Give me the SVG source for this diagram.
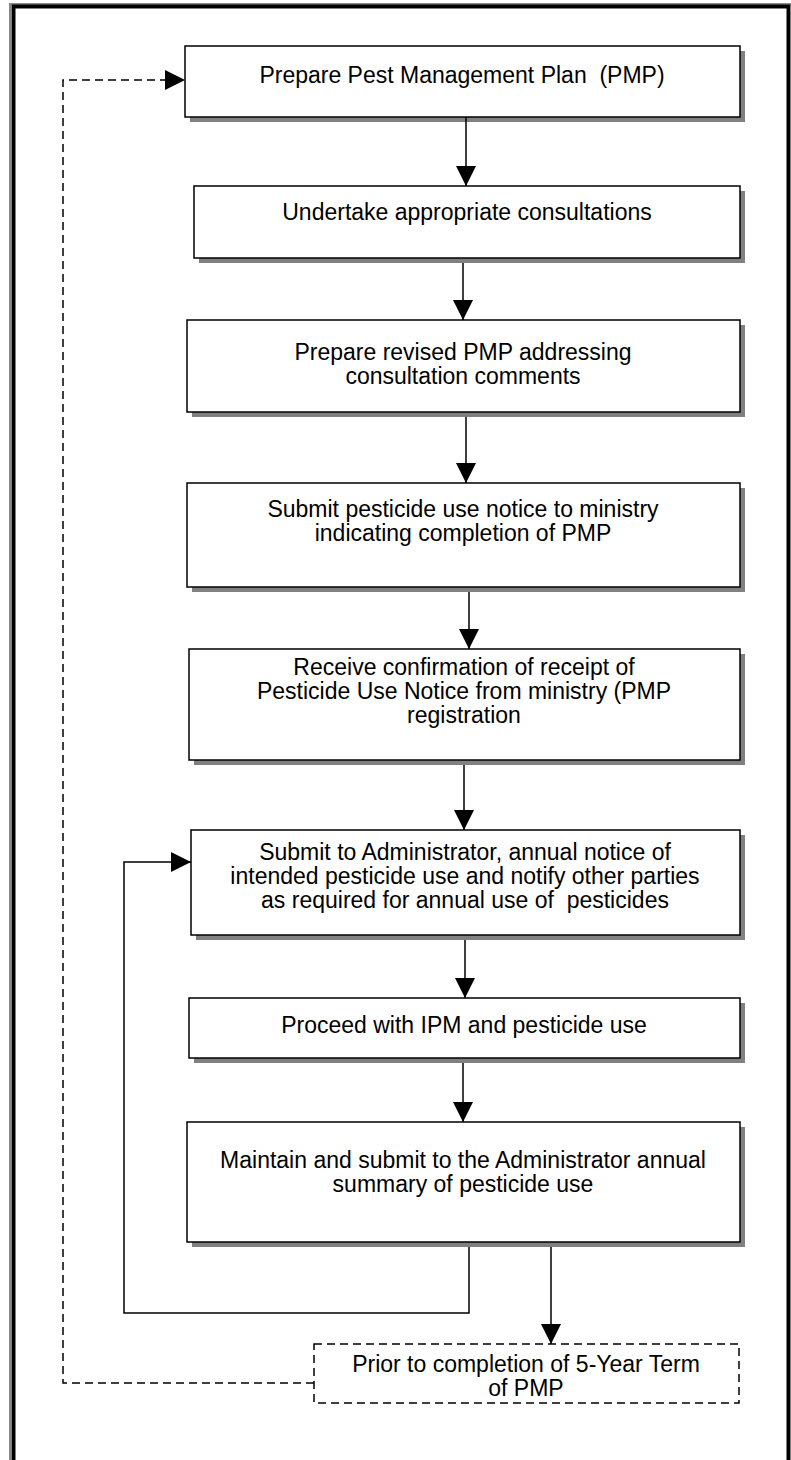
<svg xmlns="http://www.w3.org/2000/svg" width="791" height="1460" viewBox="0 0 791 1460">
<style>
.box{fill:#fff;stroke:#000;stroke-width:1.5}
.sh{fill:#808080}
.dbox{fill:none;stroke:#000;stroke-width:1.5;stroke-dasharray:8,5}
.t{font-family:"Liberation Sans",Arial,sans-serif;font-size:23px;fill:#000;text-anchor:middle;white-space:pre}
.c{fill:none;stroke:#000;stroke-width:1.5}
.d{fill:none;stroke:#000;stroke-width:1.5;stroke-dasharray:8,5}
</style>
<defs>
<marker id="ah" markerWidth="20" markerHeight="20" refX="20" refY="10" orient="auto" markerUnits="userSpaceOnUse"><path d="M0,0 L20,10 L0,20 Z" fill="#000"/></marker>
</defs>
<rect width="791" height="1460" fill="#fff"/>
<g id="frame">
<path d="M10,1460 V4 H791" fill="none" stroke="#888" stroke-width="2"/>
<path d="M13.5,1460 V6.5 H788.5 V1460" fill="none" stroke="#000" stroke-width="4"/>
</g>
<g id="n1"><rect class="sh" x="190" y="51" width="555" height="71"/><rect class="box" x="185" y="46" width="555" height="71"/><text class="t" x="462" y="83" xml:space="preserve">Prepare Pest Management Plan  (PMP)</text></g>
<g id="n2"><rect class="sh" x="199" y="191" width="546" height="72"/><rect class="box" x="194" y="186" width="546" height="72"/><text class="t" x="467" y="220">Undertake appropriate consultations</text></g>
<g id="n3"><rect class="sh" x="192" y="325" width="553" height="92"/><rect class="box" x="187" y="320" width="553" height="92"/><text class="t" x="463" y="360">Prepare revised PMP addressing</text><text class="t" x="463" y="384">consultation comments</text></g>
<g id="n4"><rect class="sh" x="192" y="488" width="553" height="104"/><rect class="box" x="187" y="483" width="553" height="104"/><text class="t" x="463" y="517">Submit pesticide use notice to ministry</text><text class="t" x="463" y="541">indicating completion of PMP</text></g>
<g id="n5"><rect class="sh" x="194" y="654" width="551" height="111"/><rect class="box" x="189" y="649" width="551" height="111"/><text class="t" x="464" y="675">Receive confirmation of receipt of</text><text class="t" x="464" y="699">Pesticide Use Notice from ministry (PMP</text><text class="t" x="464" y="723">registration</text></g>
<g id="n6"><rect class="sh" x="196" y="835" width="549" height="105"/><rect class="box" x="191" y="830" width="549" height="105"/><text class="t" x="465" y="860">Submit to Administrator, annual notice of</text><text class="t" x="465" y="884">intended pesticide use and notify other parties</text><text class="t" x="465" y="908" xml:space="preserve">as required for annual use of  pesticides</text></g>
<g id="n7"><rect class="sh" x="194" y="1003" width="551" height="60"/><rect class="box" x="189" y="998" width="551" height="60"/><text class="t" x="464" y="1033">Proceed with IPM and pesticide use</text></g>
<g id="n8"><rect class="sh" x="192" y="1127" width="553" height="120"/><rect class="box" x="187" y="1122" width="553" height="120"/><text class="t" x="463" y="1168">Maintain and submit to the Administrator annual</text><text class="t" x="463" y="1192">summary of pesticide use</text></g>
<g id="n9"><rect class="dbox" x="314" y="1344" width="425" height="59"/><text class="t" x="526" y="1372">Prior to completion of 5-Year Term</text><text class="t" x="526" y="1396">of PMP</text></g>
<g id="connectors">
<path class="c" d="M466,117 V186" marker-end="url(#ah)"/>
<path class="c" d="M463,263 V320" marker-end="url(#ah)"/>
<path class="c" d="M466,417 V483" marker-end="url(#ah)"/>
<path class="c" d="M469,592 V649" marker-end="url(#ah)"/>
<path class="c" d="M464,765 V830" marker-end="url(#ah)"/>
<path class="c" d="M465,940 V998" marker-end="url(#ah)"/>
<path class="c" d="M463,1063 V1122" marker-end="url(#ah)"/>
<path class="c" d="M551,1247 V1344" marker-end="url(#ah)"/>
<path class="c" d="M469,1247 V1313 H124 V862 H191" marker-end="url(#ah)"/>
<path class="d" d="M314,1383 H63 V80 H185" marker-end="url(#ah)"/>
</g>
</svg>
